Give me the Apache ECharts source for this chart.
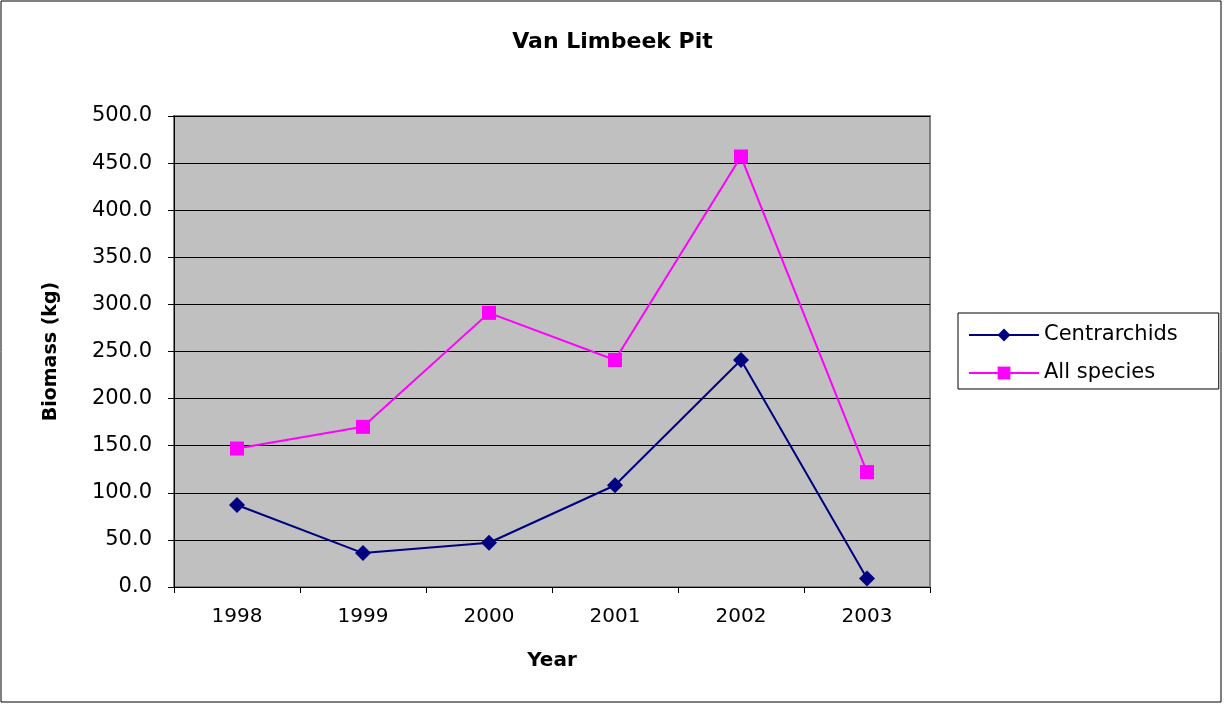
<!DOCTYPE html>
<html>
<head>
<meta charset="utf-8">
<title>Van Limbeek Pit</title>
<script src="https://cdn.jsdelivr.net/npm/echarts@6/dist/echarts.min.js"></script>
<style>
	html, body { margin: 0; padding: 0; background: #fff; }
	#chart { width: 1225px; height: 704px; }
</style>
</head>
<body>
<div id="chart"></div>
<script>
// values
var years = ['1998', '1999', '2000', '2001', '2002', '2003'];
var centrarchids = [87, 36, 47, 108, 241, 9];
var allSpecies = [147, 170, 291, 241, 457, 122];

var chart = echarts.init(document.getElementById('chart'));
var font = 'DejaVu Sans, Arial, sans-serif';

var option = {
	backgroundColor: '#fff',
	animation: false,
	title: {
		text: 'Van Limbeek Pit',
		left: 'center',
		top: 26,
		textStyle: { fontFamily: font, fontSize: 22, fontWeight: 'bold', color: '#000' }
	},
	legend: {
		orient: 'vertical',
		left: 958,
		top: 313,
		padding: [10, 41, 4, 10],
		itemGap: 14,
		itemWidth: 70,
		itemHeight: 16,
		borderColor: '#000',
		borderWidth: 1,
		textStyle: { fontFamily: font, fontSize: 21, lineHeight: 24, color: '#000' },
		data: ['Centrarchids', 'All species']
	},
	grid: {
		left: 174,
		right: 295,
		top: 116,
		bottom: 117,
		show: true,
		backgroundColor: '#c0c0c0',
		borderColor: '#808080',
		borderWidth: 2
	},
	xAxis: {
		type: 'category',
		data: years,
		boundaryGap: true,
		name: 'Year',
		nameLocation: 'middle',
		nameGap: 64,
		nameTextStyle: { fontFamily: font, fontSize: 20, fontWeight: 'bold', color: '#000' },
		axisLine: { lineStyle: { color: '#000', width: 1 } },
		axisTick: { show: true, length: 6, lineStyle: { color: '#000' } },
		axisLabel: { fontFamily: font, fontSize: 20, color: '#000', margin: 20 }
	},
	yAxis: {
		type: 'value',
		min: 0,
		max: 500,
		interval: 50,
		name: 'Biomass (kg)',
		nameLocation: 'middle',
		nameGap: 113,
		nameTextStyle: { fontFamily: font, fontSize: 19, fontWeight: 'bold', color: '#000' },
		axisLine: { show: true, lineStyle: { color: '#000', width: 1 } },
		axisTick: { show: true, length: 6, lineStyle: { color: '#000' } },
		axisLabel: {
			fontFamily: font, fontSize: 21, color: '#000', margin: 22,
			formatter: function (v) { return v.toFixed(1); }
		},
		splitLine: { show: true, lineStyle: { color: '#000', width: 1 } }
	},
	series: [
		{
			name: 'Centrarchids',
			type: 'line',
			data: centrarchids,
			symbol: 'diamond',
			symbolSize: 16,
			color: '#000080',
			lineStyle: { color: '#000080', width: 2 },
			itemStyle: { color: '#000080' }
		},
		{
			name: 'All species',
			type: 'line',
			data: allSpecies,
			symbol: 'rect',
			symbolSize: 14,
			color: '#ff00ff',
			lineStyle: { color: '#ff00ff', width: 2 },
			itemStyle: { color: '#ff00ff' }
		}
	],
	graphic: [
		{
			type: 'rect',
			shape: { x: 1, y: 1, width: 1220, height: 701 },
			style: { fill: 'none', stroke: '#000', lineWidth: 1 },
			silent: true
		}
	]
};
chart.setOption(option);
</script>
</body>
</html>
